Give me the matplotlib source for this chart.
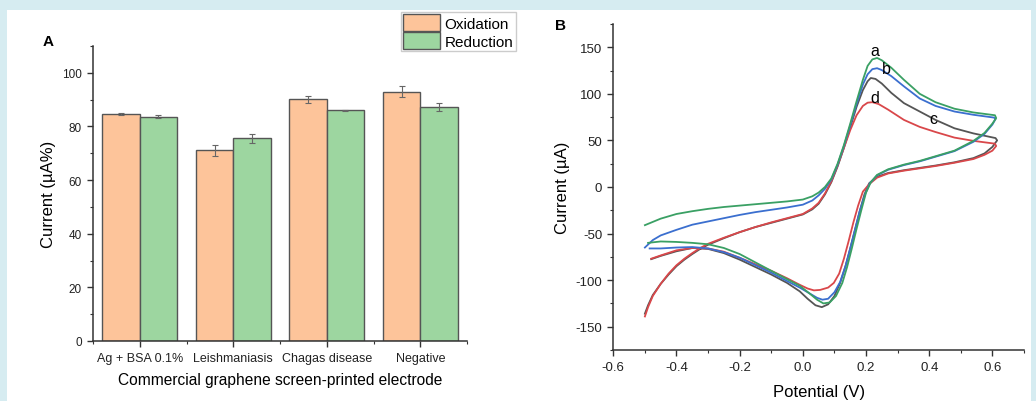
import numpy as np
import matplotlib
matplotlib.use("Agg")
from matplotlib import pyplot as plt
from matplotlib.patches import Rectangle
from matplotlib.ticker import MultipleLocator

plt.rcParams["font.family"] = ["Liberation Sans", "DejaVu Sans"]

#%% panel A data
categories = ["Ag + BSA 0.1%", "Leishmaniasis", "Chagas disease", "Negative"]
oxidation = [84.8, 71.1, 90.2, 93.0]
oxidation_err = [0.4, 2.0, 1.3, 2.0]
reduction = [83.7, 75.6, 86.0, 87.4]
reduction_err = [0.4, 1.6, 0.1, 1.5]

#%% panel B data (cyclic voltammograms, forward then reverse scan)
a_E = [-0.50, -0.45, -0.40, -0.35, -0.30, -0.25, -0.20, -0.15, -0.10, -0.05, 0.00, 0.03, 0.05, 0.07,
       0.09, 0.11, 0.13, 0.15, 0.17, 0.19, 0.205, 0.22, 0.235, 0.25, 0.28, 0.32, 0.37, 0.42, 0.48, 0.54,
       0.608, 0.612, 0.60, 0.575, 0.54, 0.48, 0.42, 0.37, 0.32, 0.27, 0.235, 0.215, 0.20, 0.185, 0.17,
       0.155, 0.14, 0.125, 0.105, 0.085, 0.065, 0.045, 0.02, -0.01, -0.05, -0.10, -0.15, -0.20, -0.25,
       -0.30, -0.35, -0.40, -0.45, -0.49]
a_I = [-41, -34, -29, -26, -23.5, -21.5, -20, -18.5, -17, -15.5, -13.5, -10, -6, 0,
       9, 25, 45, 68, 92, 115, 130, 137, 138.5, 136, 128, 115, 100, 91, 84, 80,
       77, 74, 68, 58, 49.5, 39, 33, 28, 24, 19, 13, 5, -6, -25, -45,
       -66, -86, -103, -117, -124, -125, -121, -114, -106, -99, -90, -81, -72, -65.5,
       -61.5, -60, -59, -58.5, -60]

b_E = [-0.50, -0.475, -0.45, -0.40, -0.35, -0.30, -0.25, -0.20, -0.15, -0.10, -0.05, 0.00, 0.03, 0.05,
       0.07, 0.09, 0.11, 0.13, 0.15, 0.17, 0.19, 0.205, 0.22, 0.235, 0.25, 0.28, 0.32, 0.37, 0.42, 0.48,
       0.54, 0.605, 0.61, 0.60, 0.575, 0.54, 0.48, 0.42, 0.37, 0.32, 0.27, 0.235, 0.212, 0.197, 0.18,
       0.165, 0.15, 0.135, 0.118, 0.10, 0.08, 0.062, 0.045, 0.02, -0.01, -0.05, -0.10, -0.15, -0.20,
       -0.25, -0.30, -0.35, -0.40, -0.45, -0.485]
b_I = [-65, -57, -52, -46, -40.5, -37, -33.5, -30, -27, -24.5, -22, -19, -14.5, -9,
       -2, 8, 24, 44, 66, 89, 110, 121, 126.5, 127.5, 125.5, 119, 108, 95, 87, 81,
       77.5, 74.5, 73, 67, 57, 48.5, 38.5, 32.5, 27.5, 23.5, 18.5, 12.5, 4, -8, -26,
       -46, -66, -85, -102, -113, -120, -121, -119, -114, -108, -101, -92, -84, -76,
       -70, -66, -64.5, -65, -66, -66]

c_E = [-0.50, -0.49, -0.475, -0.45, -0.425, -0.40, -0.375, -0.35, -0.325, -0.30, -0.25, -0.20, -0.15,
       -0.10, -0.05, 0.00, 0.03, 0.05, 0.07, 0.09, 0.11, 0.13, 0.15, 0.17, 0.19, 0.205, 0.215, 0.23,
       0.25, 0.28, 0.32, 0.37, 0.42, 0.48, 0.54, 0.61, 0.615, 0.60, 0.575, 0.54, 0.48, 0.42, 0.37, 0.32,
       0.27, 0.235, 0.21, 0.195, 0.18, 0.165, 0.15, 0.135, 0.118, 0.10, 0.08, 0.06, 0.04, 0.015, -0.01,
       -0.05, -0.10, -0.15, -0.20, -0.25, -0.30, -0.35, -0.40, -0.45, -0.48]
c_I = [-136, -127, -116, -104, -94, -85, -78, -72, -66.5, -62, -55, -48.5, -43,
       -38.5, -34, -29.5, -24, -18, -8, 5, 22, 42, 64, 86, 104, 113.5, 117, 116,
       111, 101, 90, 81, 72, 63, 57.5, 52.5, 50, 43, 36, 31, 26.5, 23, 20.5, 18,
       15, 11, 4, -8, -26, -46, -66, -85, -103, -117, -126, -129, -127, -120, -112,
       -103, -94, -86, -78, -71, -66.5, -65.5, -69, -74, -77.5]

d_E = [-0.50, -0.49, -0.475, -0.45, -0.425, -0.40, -0.375, -0.35, -0.325, -0.30, -0.25, -0.20, -0.15,
       -0.10, -0.05, 0.00, 0.03, 0.05, 0.07, 0.09, 0.11, 0.13, 0.15, 0.17, 0.19, 0.205, 0.22, 0.24,
       0.27, 0.32, 0.37, 0.42, 0.48, 0.54, 0.608, 0.612, 0.60, 0.575, 0.54, 0.48, 0.42, 0.37, 0.32,
       0.27, 0.235, 0.21, 0.19, 0.175, 0.16, 0.145, 0.13, 0.115, 0.098, 0.08, 0.055, 0.035, 0.015,
       -0.01, -0.05, -0.10, -0.15, -0.20, -0.25, -0.30, -0.35, -0.40, -0.45, -0.48]
d_I = [-139, -129, -117, -104, -93, -84, -77, -71, -65.5, -61, -54.5, -48.5, -43,
       -38, -33.5, -29, -23, -17, -7, 6, 23, 42, 61, 77, 87, 90.5, 91, 89,
       83, 72, 64.5, 59, 53, 49.5, 46.5, 44, 39, 34.5, 30, 26, 22.5, 20, 17.5,
       14.5, 10, 3, -5, -20, -38, -58, -77, -93, -103, -108, -110.5, -111, -109,
       -105, -98, -90, -83, -76, -69.5, -66, -65.5, -68, -73.5, -77]

curve_labels = ["a", "b", "c", "d"]
label_E = [0.228, 0.263, 0.413, 0.228]
label_I = [146, 127, 73, 96]

#%%
fig = plt.figure(figsize=(10.36, 4.02), dpi=100, facecolor="#d6ecf1")
fig.patches.append(Rectangle((7 / 1036, 0), 1024 / 1036, 391 / 402,
                             transform=fig.transFigure, facecolor="white",
                             edgecolor="none", zorder=-10))

spine_col = "#333333"

# ---- panel A
ax1 = fig.add_axes([0.0898, 0.1493, 0.361, 0.7338])
x = np.arange(len(categories))
w = 0.4
err_kw = dict(ecolor="#666666", elinewidth=0.8, capsize=2.5, capthick=0.8)
ax1.bar(x - w / 2, oxidation, w, yerr=oxidation_err, color="#fdc49a",
        edgecolor="#555555", linewidth=1.0, label="Oxidation", error_kw=err_kw)
ax1.bar(x + w / 2, reduction, w, yerr=reduction_err, color="#9dd6a0",
        edgecolor="#555555", linewidth=1.0, label="Reduction", error_kw=err_kw)
ax1.set_xlim(-0.5, 3.5)
ax1.set_ylim(0, 110)
ax1.set_xticks(x)
ax1.set_xticklabels(categories, fontsize=9)
ax1.xaxis.set_minor_locator(MultipleLocator(0.5))
ax1.yaxis.set_major_locator(MultipleLocator(20))
ax1.yaxis.set_minor_locator(MultipleLocator(10))
ax1.tick_params(axis="y", labelsize=8.5)
ax1.set_ylabel("Current (µA%)", fontsize=12)
ax1.set_xlabel("Commercial graphene screen-printed electrode", fontsize=11.2, labelpad=6)
ax1.legend(loc="upper right", bbox_to_anchor=(1.13, 1.115), fontsize=11,
           handlelength=2.4, handleheight=1.25, labelspacing=0.12, borderpad=0.15,
           handletextpad=0.3, borderaxespad=0, fancybox=False, framealpha=1,
           edgecolor="#cccccc")
fig.text(48 / 1036, 1 - 42 / 402, "A", fontsize=11, fontweight="bold",
         ha="center", va="center")

# ---- panel B
ax2 = fig.add_axes([0.592, 0.1269, 0.3964, 0.811])
ax2.plot(c_E, c_I, color="#555555", lw=1.3)
ax2.plot(d_E, d_I, color="#d9474a", lw=1.3)
ax2.plot(b_E, b_I, color="#3b6fcf", lw=1.3)
ax2.plot(a_E, a_I, color="#3aa064", lw=1.3)
for lab, le, li in zip(curve_labels, label_E, label_I):
    ax2.text(le, li, lab, fontsize=11.5, ha="center", va="center")
ax2.set_xlim(-0.6, 0.7)
ax2.set_ylim(-175, 175)
ax2.xaxis.set_minor_locator(MultipleLocator(0.1))
ax2.yaxis.set_minor_locator(MultipleLocator(25))
ax2.set_xticks(np.arange(-0.6, 0.61, 0.2))
ax2.set_xticklabels(["-0.6", "-0.4", "-0.2", "0.0", "0.2", "0.4", "0.6"])
ax2.set_yticks(np.arange(-150, 151, 50))
ax2.set_yticklabels(["-150", "-100", "-50", "0", "50", "100", "150"])
ax2.tick_params(labelsize=9.5)
ax2.set_ylabel("Current (µA)", fontsize=12)
ax2.set_xlabel("Potential (V)", fontsize=12, labelpad=8)
fig.text(560 / 1036, 1 - 26 / 402, "B", fontsize=11, fontweight="bold",
         ha="center", va="center")

for ax in (ax1, ax2):
    for s in ("top", "right"):
        ax.spines[s].set_visible(False)
    for s in ("left", "bottom"):
        ax.spines[s].set_color(spine_col)
        ax.spines[s].set_linewidth(1.1)
    ax.tick_params(which="major", direction="out", length=4.5, width=1.0,
                   color=spine_col, labelcolor="#222222")
    ax.tick_params(which="minor", direction="out", length=2.5, width=0.8,
                   color=spine_col)
    ax.set_facecolor("white")

fig.savefig("out.png", dpi=100, facecolor=fig.get_facecolor())
